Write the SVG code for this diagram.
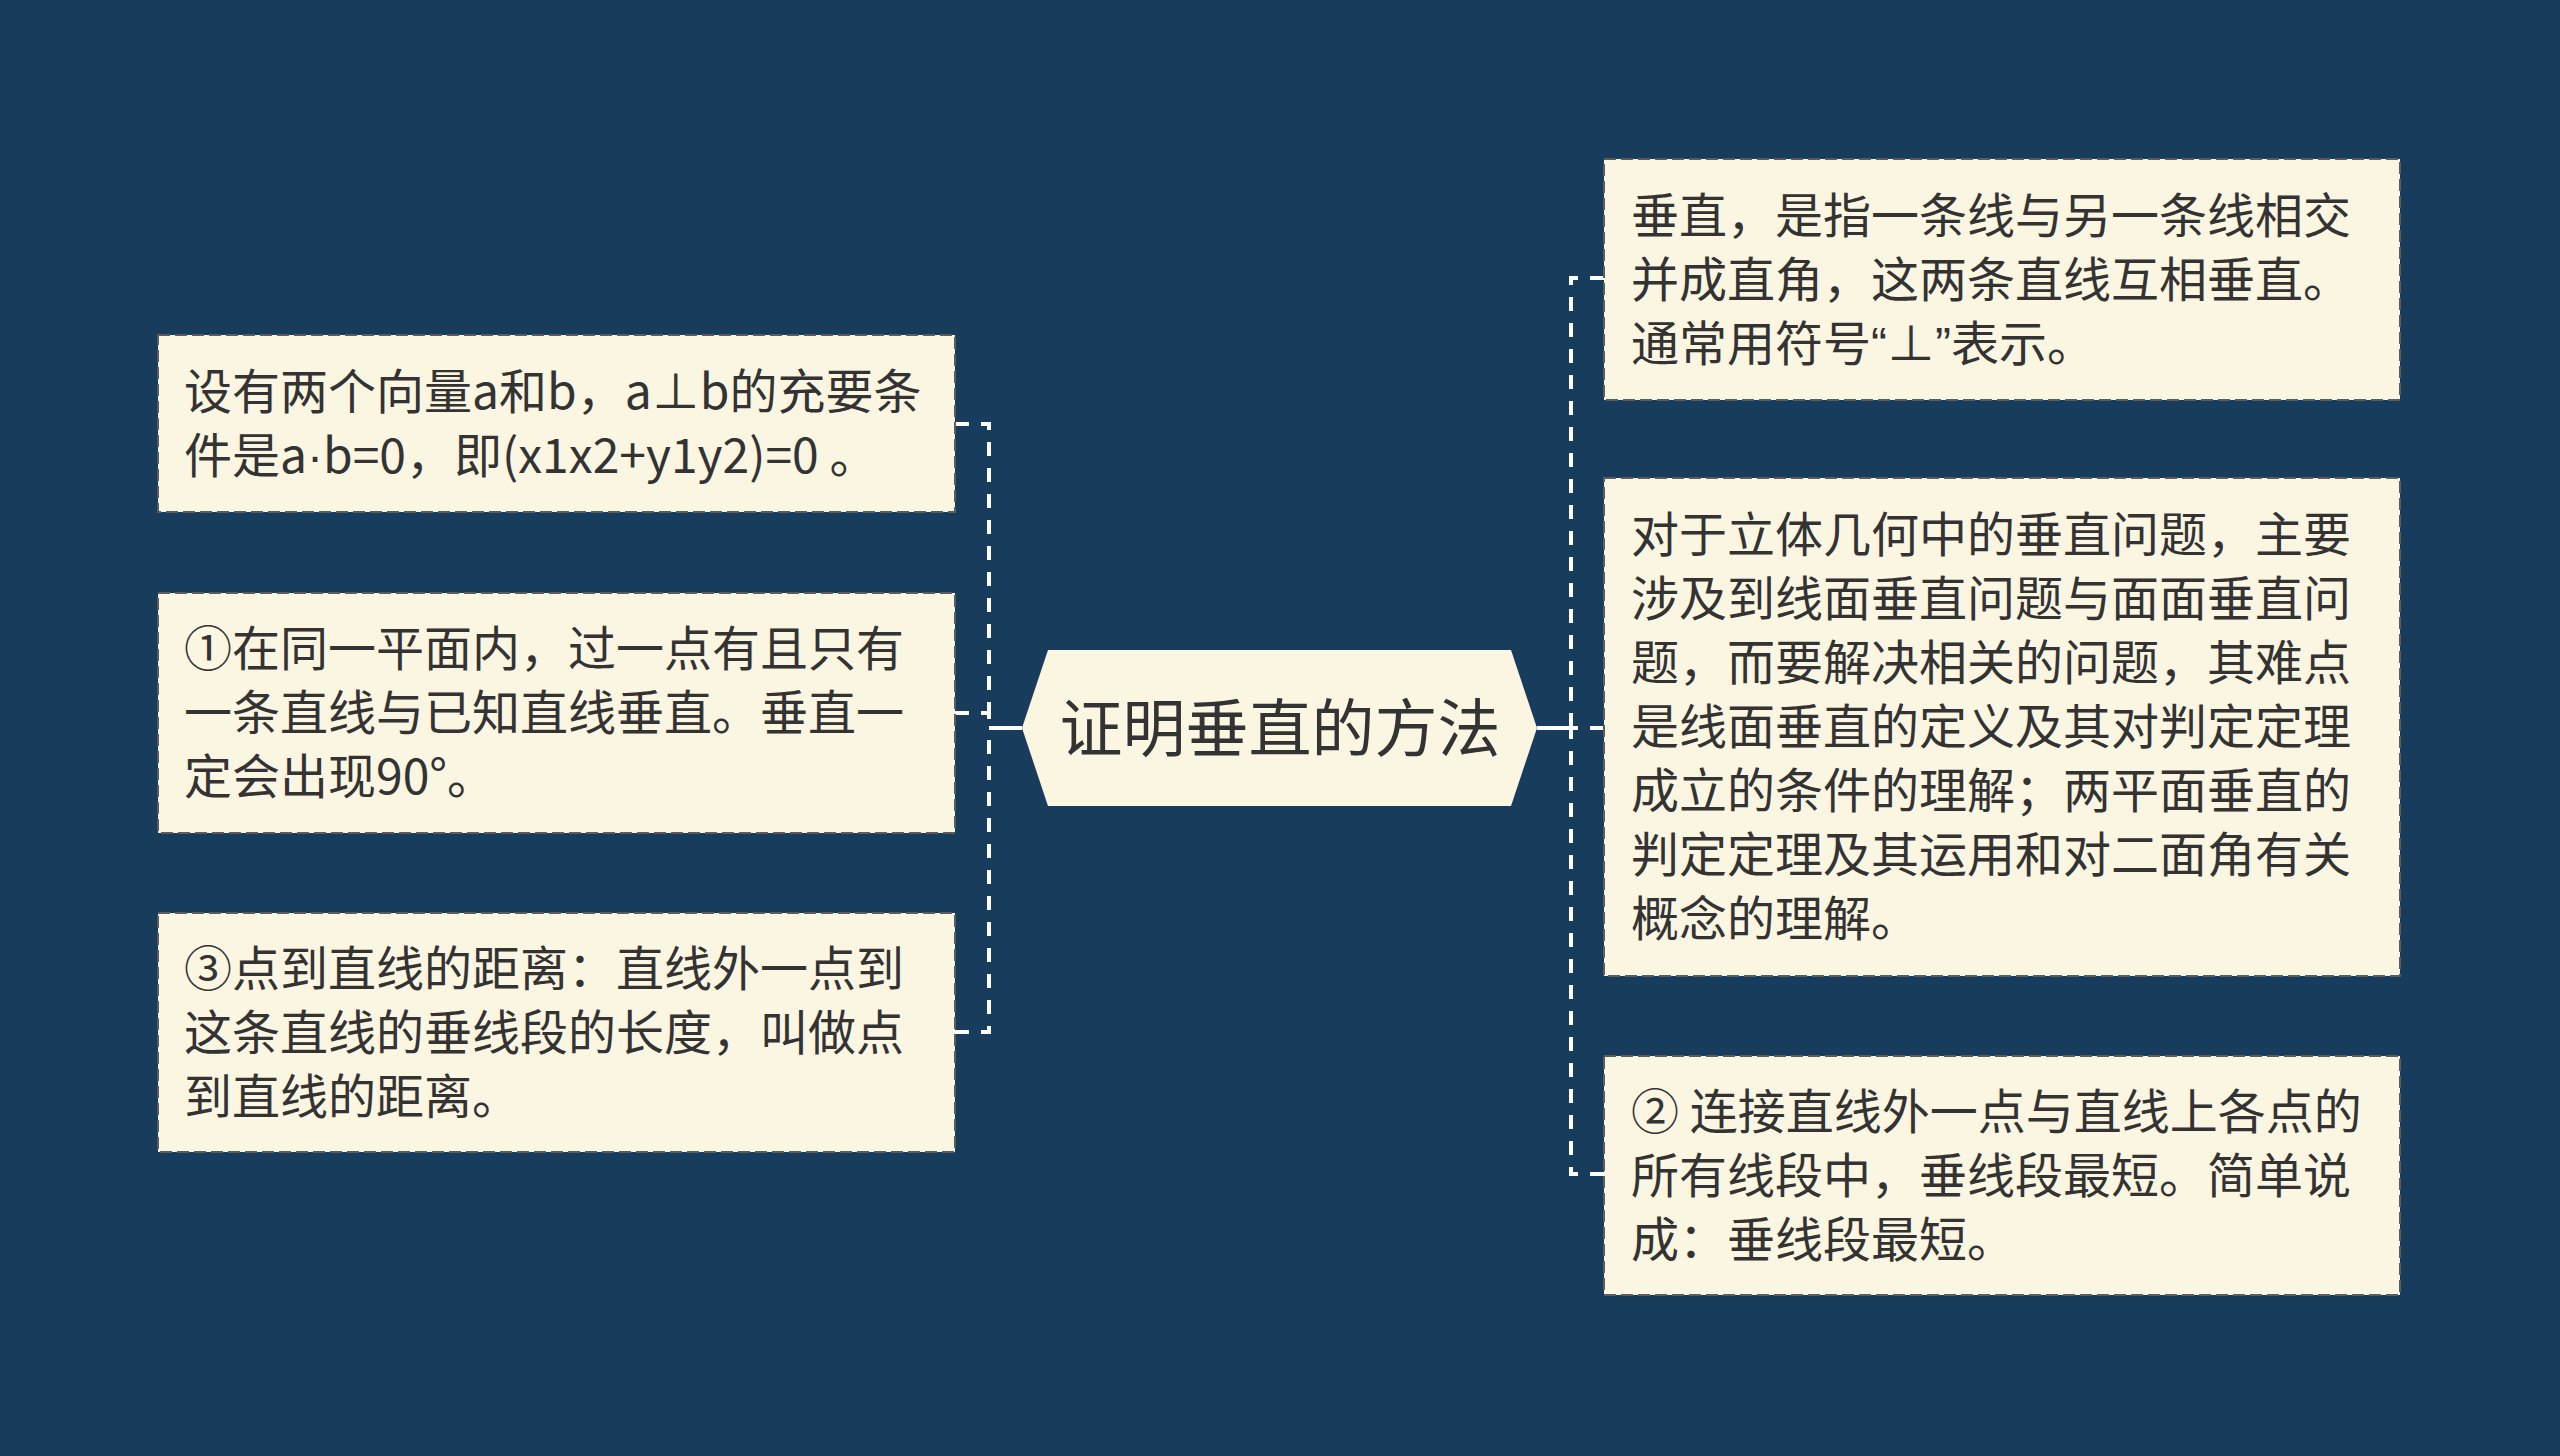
<svg xmlns="http://www.w3.org/2000/svg" width="2560" height="1456" viewBox="0 0 2560 1456">
<style>
.bg{fill:#173c5c}
.box{fill:#fbf6e2;stroke:#5c5c5c;stroke-width:2;stroke-dasharray:12 5}
.t{font-family:"Noto Sans CJK SC","Noto Sans",sans-serif;font-size:48px;fill:#333333}
.lat{font-family:"Liberation Sans",sans-serif}
.root{font-family:"Noto Sans CJK SC","Noto Sans",sans-serif;font-size:63px;fill:#333333;text-anchor:middle}
.dash{fill:none;stroke:#ffffff;stroke-width:4;stroke-dasharray:14 12}
.solid{fill:none;stroke:#ffffff;stroke-width:4}
</style>
<rect class="bg" x="0" y="0" width="2560" height="1456"/>
<g id="connectors">
<path class="solid" d="M1022 728 H989"/>
<path class="solid" d="M1537 728 H1571"/>
<path class="dash" d="M955 424 H989 V728"/>
<path class="dash" d="M955 713 H989 V728"/>
<path class="dash" d="M955 1032 H989 V728"/>
<path class="dash" d="M1604 278 H1571 V728"/>
<path class="dash" d="M1604 728 H1571"/>
<path class="dash" d="M1604 1174 H1571 V728"/>
</g>
<g id="root">
<polygon points="1022,728 1048,650 1511,650 1537,728 1511,806 1048,806" fill="#fbf6e2"/>
<text class="root" x="1280" y="751">证明垂直的方法</text>
</g>
<g id="node-l1">
<rect class="box" x="158" y="335" width="797" height="177"/>
<text class="t" x="184" y="409">设有两个向量a和b，a⊥b的充要条</text>
<text class="t" x="184" y="473">件是a<tspan class="lat">·</tspan>b=0，即(x1x2+y1y2)=0 。</text>
</g>
<g id="node-l2">
<rect class="box" x="158" y="593" width="797" height="240"/>
<text class="t" x="184" y="666">①在同一平面内，过一点有且只有</text>
<text class="t" x="184" y="730">一条直线与已知直线垂直。垂直一</text>
<text class="t" x="184" y="794">定会出现90°。</text>
</g>
<g id="node-l3">
<rect class="box" x="158" y="913" width="797" height="239"/>
<text class="t" x="184" y="986">③点到直线的距离：直线外一点到</text>
<text class="t" x="184" y="1050">这条直线的垂线段的长度，叫做点</text>
<text class="t" x="184" y="1114">到直线的距离。</text>
</g>
<g id="node-r1">
<rect class="box" x="1604" y="159" width="796" height="241"/>
<text class="t" x="1631" y="233">垂直，是指一条线与另一条线相交</text>
<text class="t" x="1631" y="297">并成直角，这两条直线互相垂直。</text>
<text class="t" x="1631" y="361">通常用符号<tspan class="lat">“</tspan>⊥<tspan class="lat">”</tspan>表示。</text>
</g>
<g id="node-r2">
<rect class="box" x="1604" y="478" width="796" height="498"/>
<text class="t" x="1631" y="552">对于立体几何中的垂直问题，主要</text>
<text class="t" x="1631" y="616">涉及到线面垂直问题与面面垂直问</text>
<text class="t" x="1631" y="680">题，而要解决相关的问题，其难点</text>
<text class="t" x="1631" y="744">是线面垂直的定义及其对判定定理</text>
<text class="t" x="1631" y="808">成立的条件的理解；两平面垂直的</text>
<text class="t" x="1631" y="872">判定定理及其运用和对二面角有关</text>
<text class="t" x="1631" y="936">概念的理解。</text>
</g>
<g id="node-r3">
<rect class="box" x="1604" y="1056" width="796" height="239"/>
<text class="t" x="1631" y="1129">② 连接直线外一点与直线上各点的</text>
<text class="t" x="1631" y="1193">所有线段中，垂线段最短。简单说</text>
<text class="t" x="1631" y="1257">成：垂线段最短。</text>
</g>
</svg>
